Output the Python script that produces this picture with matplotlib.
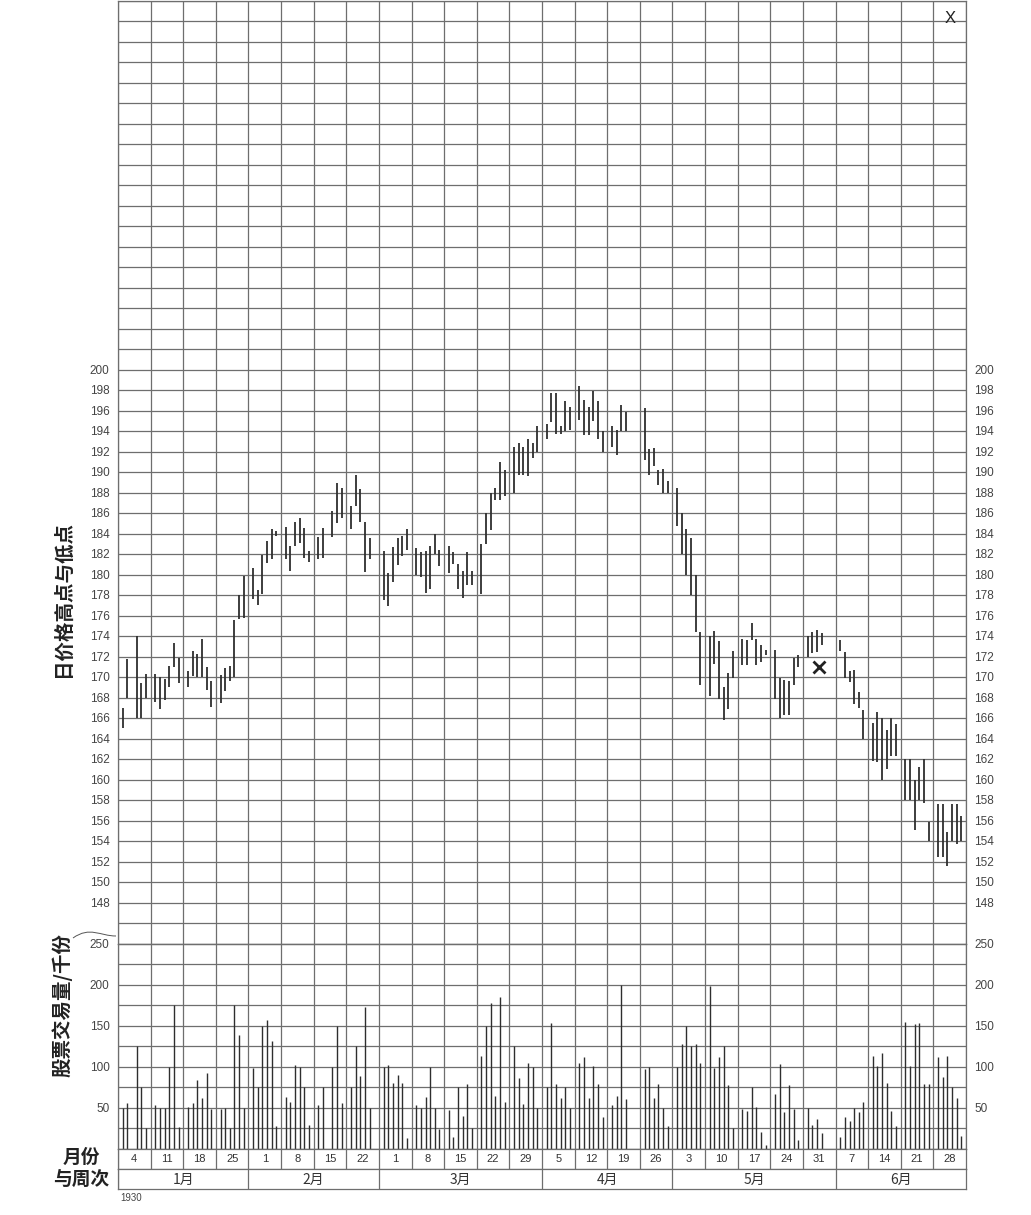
import numpy as np
import matplotlib.pyplot as plt
from matplotlib.path import Path
from matplotlib.patches import PathPatch

plt.rcParams['font.family'] = ['Liberation Sans', 'Noto Sans CJK SC']
CJK = ['Noto Sans CJK SC', 'DejaVu Sans']

# trading days, one line per week (week ends on Saturday)
dates = [
    '1929-12-30', '1929-12-31', '1930-01-02', '1930-01-03', '1930-01-04',
    '1930-01-06', '1930-01-07', '1930-01-08', '1930-01-09', '1930-01-10', '1930-01-11',
    '1930-01-13', '1930-01-14', '1930-01-15', '1930-01-16', '1930-01-17', '1930-01-18',
    '1930-01-20', '1930-01-21', '1930-01-22', '1930-01-23', '1930-01-24', '1930-01-25',
    '1930-01-27', '1930-01-28', '1930-01-29', '1930-01-30', '1930-01-31', '1930-02-01',
    '1930-02-03', '1930-02-04', '1930-02-05', '1930-02-06', '1930-02-07', '1930-02-08',
    '1930-02-10', '1930-02-11', '1930-02-13', '1930-02-14', '1930-02-15',
    '1930-02-17', '1930-02-18', '1930-02-19', '1930-02-20', '1930-02-21',
    '1930-02-24', '1930-02-25', '1930-02-26', '1930-02-27', '1930-02-28', '1930-03-01',
    '1930-03-03', '1930-03-04', '1930-03-05', '1930-03-06', '1930-03-07', '1930-03-08',
    '1930-03-10', '1930-03-11', '1930-03-12', '1930-03-13', '1930-03-14', '1930-03-15',
    '1930-03-17', '1930-03-18', '1930-03-19', '1930-03-20', '1930-03-21', '1930-03-22',
    '1930-03-24', '1930-03-25', '1930-03-26', '1930-03-27', '1930-03-28', '1930-03-29',
    '1930-03-31', '1930-04-01', '1930-04-02', '1930-04-03', '1930-04-04', '1930-04-05',
    '1930-04-07', '1930-04-08', '1930-04-09', '1930-04-10', '1930-04-11', '1930-04-12',
    '1930-04-14', '1930-04-15', '1930-04-16', '1930-04-17',
    '1930-04-21', '1930-04-22', '1930-04-23', '1930-04-24', '1930-04-25', '1930-04-26',
    '1930-04-28', '1930-04-29', '1930-04-30', '1930-05-01', '1930-05-02', '1930-05-03',
    '1930-05-05', '1930-05-06', '1930-05-07', '1930-05-08', '1930-05-09', '1930-05-10',
    '1930-05-12', '1930-05-13', '1930-05-14', '1930-05-15', '1930-05-16', '1930-05-17',
    '1930-05-19', '1930-05-20', '1930-05-21', '1930-05-22', '1930-05-23', '1930-05-24',
    '1930-05-26', '1930-05-27', '1930-05-28', '1930-05-29',
    '1930-06-02', '1930-06-03', '1930-06-04', '1930-06-05', '1930-06-06', '1930-06-07',
    '1930-06-09', '1930-06-10', '1930-06-11', '1930-06-12', '1930-06-13', '1930-06-14',
    '1930-06-16', '1930-06-17', '1930-06-18', '1930-06-19', '1930-06-20', '1930-06-21',
    '1930-06-23', '1930-06-24', '1930-06-25', '1930-06-26', '1930-06-27', '1930-06-28',
]

highs = [
    167, 171.75, 174, 169.4, 170.3,
    170.3, 170, 169.8, 171.1, 173.3, 171.9,
    170.6, 172.5, 172.2, 173.7, 171, 169.6,
    170.2, 170.9, 171.1, 175.6, 178, 179.9,
    180.6, 178.5, 181.9, 183.3, 184.4, 184.2,
    184.6, 182.8, 185.1, 185.5, 184.5, 182.3,
    183.7, 184.5, 186.2, 188.9, 188.4,
    186.7, 189.7, 188.3, 185.1, 183.6,
    182.3, 180.1, 182.7, 183.6, 183.8, 184.4,
    182.6, 182.2, 182.3, 182.8, 184, 182.4,
    182.8, 182.2, 181, 180.3, 182.2, 180.3,
    183, 186, 188, 188.4, 191, 190.2,
    192.4, 192.8, 192.4, 193.2, 192.8, 194.5,
    194.7, 197.7, 197.7, 194.5, 196.9, 196.3,
    198.4, 197, 196.3, 197.9, 196.9, 194,
    194.5, 194.1, 196.5, 195.9,
    196.2, 192.2, 192.3, 190.2, 190.3, 189.1,
    188.4, 186, 184.4, 183.6, 180, 174.4,
    174, 174.5, 173.5, 169, 170.4, 172.5,
    173.7, 173.6, 175.3, 173.7, 173.1, 172.6,
    172.6, 169.9, 169.7, 169.6, 171.9, 172.1,
    174, 174.4, 174.6, 174.3,
    173.6, 172.4, 170.6, 170.7, 168.5, 166.8,
    165.5, 166.6, 166, 164.8, 166, 165.4,
    162, 162, 160, 161.2, 162, 155.9,
    157.6, 157.6, 154.9, 157.6, 157.6, 156.4,
]

lows = [
    165, 168, 166, 166, 168,
    167.6, 166.9, 167.8, 169, 171, 169.4,
    169, 170.1, 170, 170, 168.7, 167.1,
    167.5, 168.6, 169.6, 170, 175.7, 175.8,
    177.6, 177, 178.1, 181.1, 181.5, 183.8,
    181.5, 180.3, 182.8, 183.1, 181.6, 181.2,
    181.5, 181.6, 183.7, 185, 185.5,
    184.4, 186.7, 185.1, 180.2, 181.5,
    177.5, 176.9, 179.3, 180.9, 181.8, 182.4,
    180, 179.8, 178.2, 178.6, 182, 180.8,
    180.1, 181, 178.6, 177.7, 179, 179,
    178.1, 183, 184.3, 187.3, 187.3, 187.7,
    188, 189.7, 189.7, 189.6, 191.4, 192,
    193.2, 194.9, 193.7, 193.7, 194, 194.1,
    195.1, 193.6, 193.6, 195, 193.2, 192,
    192.4, 191.7, 194, 194,
    191.2, 189.7, 190.6, 188.7, 188, 188,
    184.7, 182, 180, 178, 174.4, 169.2,
    168.1, 171.3, 167.9, 165.8, 166.9, 169.9,
    171.2, 171.2, 173.6, 171.2, 171.5, 172.1,
    167.9, 166, 166.3, 166.3, 169.2, 171,
    172, 172.3, 172.4, 173.1,
    172.5, 169.9, 169.5, 167.4, 167, 164,
    161.8, 161.7, 160, 161, 162.3, 162.3,
    158, 158, 155.1, 158, 157.7, 154,
    152.4, 152.4, 151.6, 154, 153.7, 154,
]

# thousands of shares
volumes = [
    50, 55, 125, 75, 25,
    53, 50, 50, 100, 175, 26,
    51, 56, 83, 61, 92, 48,
    48, 50, 25, 175, 139, 50,
    98, 75, 150, 157, 131, 28,
    63, 57, 102, 100, 75, 29,
    53, 75, 100, 149, 56,
    75, 125, 89, 172, 50,
    100, 102, 80, 90, 80, 13,
    53, 50, 63, 100, 50, 24,
    47, 14, 75, 40, 79, 25,
    113, 150, 178, 64, 185, 57,
    125, 86, 54, 104, 100, 50,
    75, 153, 79, 61, 75, 50,
    104, 111, 61, 101, 79, 39,
    53, 64, 200, 60,
    97, 100, 61, 79, 50, 27,
    100, 128, 150, 125, 128, 104,
    198, 98, 111, 125, 78, 25,
    48, 46, 75, 51, 20, 4,
    67, 103, 44, 78, 48, 10,
    50, 29, 36, 19,
    14, 39, 33, 50, 44, 57,
    113, 101, 117, 80, 46, 27,
    154, 101, 152, 153, 79, 79,
    112, 87, 113, 75, 61, 15,
]

week_labels = ['4', '11', '18', '25', '1', '8', '15', '22', '1', '8', '15', '22', '29',
               '5', '12', '19', '26', '3', '10', '17', '24', '31', '7', '14', '21', '28']
months = ['1月', '2月', '3月', '4月', '5月', '6月']
weeks_per_month = [4, 4, 5, 4, 5, 4]

mark_day, mark_price = 150.5, 171   # the "x" mark near end of May

start = np.datetime64('1929-12-29')
x = (np.array(dates, dtype='datetime64[D]') - start).astype(int)
n_days = 7 * len(week_labels)

W, H = 1031, 1215
fig = plt.figure(figsize=(W / 100, H / 100), dpi=100)


def px_axes(left, top, right, bottom):
    return fig.add_axes([left / W, 1 - bottom / H, (right - left) / W, (bottom - top) / H])


grid_c = '#6e6e6e'
bar_c = '#2e2e2e'
lab_c = '#444444'
L, R = 118, 966


def setup_grid(ax):
    ax.set_xlim(0, n_days)
    ax.set_xticks(np.arange(0, n_days + 1, 7))
    ax.grid(True, color=grid_c, lw=0.9)
    ax.set_axisbelow(True)
    ax.tick_params(length=0, labelbottom=False, labelright=True,
                   labelsize=8.5, labelcolor=lab_c, pad=6)
    for s in ax.spines.values():
        s.set_color(grid_c)
        s.set_linewidth(0.9)


# price panel
ax = px_axes(L, 0.5, R, 943.5)
setup_grid(ax)
ax.set_ylim(144, 236)
yt = np.arange(144, 237, 2)
ax.set_yticks(yt)
ax.set_yticklabels([str(v) if 148 <= v <= 200 else '' for v in yt])
ax.vlines(x, lows, highs, color=bar_c, lw=1.3)
ax.plot(mark_day, mark_price, marker='x', ms=8, mew=2, color='#222222')
ax.text(n_days - 3.5, 235, 'X', ha='center', va='top', fontsize=12, color='#222222')

# volume panel
axv = px_axes(L, 943.5, R, 1148.5)
setup_grid(axv)
axv.set_ylim(0, 250)
vt = np.arange(0, 251, 25)
axv.set_yticks(vt)
axv.set_yticklabels([str(v) if v % 50 == 0 and v > 0 else '' for v in vt])
axv.vlines(x, 0, volumes, color=bar_c, lw=1.0)

# week row
axw = px_axes(L, 1148.5, R, 1168.5)
axw.set_xlim(0, n_days)
axw.set_ylim(0, 1)
axw.set_xticks([])
axw.set_yticks([])
for i, lab in enumerate(week_labels):
    axw.axvline(7 * i, color=grid_c, lw=0.9)
    axw.text(7 * i + 3.5, 0.45, lab, ha='center', va='center', fontsize=8, color='#333333')

# month row
axm = px_axes(L, 1168.5, R, 1189)
axm.set_xlim(0, n_days)
axm.set_ylim(0, 1)
axm.set_xticks([])
axm.set_yticks([])
edges = np.concatenate([[0], np.cumsum(weeks_per_month)]) * 7
for i, lab in enumerate(months):
    axm.axvline(edges[i], color=grid_c, lw=0.9)
    axm.text((edges[i] + edges[i + 1]) / 2, 0.45, lab, ha='center', va='center',
             fontsize=10, color='#333333', family=CJK)
for a in (axw, axm):
    for s in a.spines.values():
        s.set_color(grid_c)
        s.set_linewidth(0.9)

# side titles
fig.text(63 / W, 1 - 599 / H, '日价格高点与低点', rotation=90, ha='center', va='center',
         fontsize=14, family=CJK, weight='bold', color='#222222')
fig.text(62 / W, 1 - 1005 / H, '股票交易量/千份', rotation=90, ha='center', va='center',
         fontsize=14, family=CJK, weight='bold', color='#222222')
fig.text(81 / W, 1 - 1157 / H, '月份', ha='center', va='center',
         fontsize=13.5, family=CJK, weight='bold', color='#222222')
fig.text(81 / W, 1 - 1180 / H, '与周次', ha='center', va='center',
         fontsize=13.5, family=CJK, weight='bold', color='#222222')
fig.text(120 / W, 1 - 1198 / H, '1930', ha='left', va='center', fontsize=7, color=lab_c)

# small swash above the volume scale
verts = [(73, 938), (90, 926), (100, 936), (116, 936)]
verts = [(vx / W, 1 - vy / H) for vx, vy in verts]
swash = PathPatch(Path(verts, [Path.MOVETO, Path.CURVE4, Path.CURVE4, Path.CURVE4]),
                  transform=fig.transFigure, fill=False, lw=0.7, edgecolor='#555555')
fig.patches.append(swash)

fig.savefig('out.png', dpi=100)
